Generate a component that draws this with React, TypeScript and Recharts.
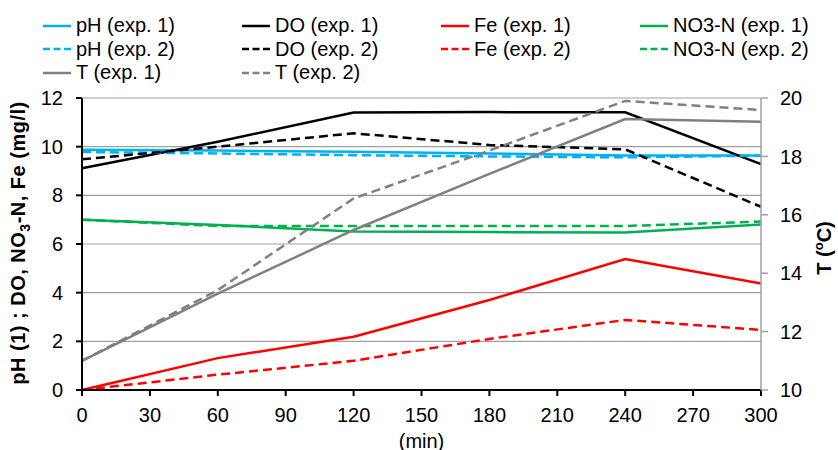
import { LineChart, Line, XAxis, YAxis, CartesianGrid } from 'recharts'

// sampling times (min)
const TIME = [0, 60, 120, 180, 240, 300]

// left axis: pH, DO, NO3-N, Fe (mg/l)
const PH_1 = [9.87, 9.84, 9.79, 9.72, 9.64, 9.64]
const PH_2 = [9.78, 9.72, 9.65, 9.6, 9.56, 9.63]
const DO_1 = [9.11, 10.2, 11.4, 11.42, 11.41, 9.28]
const DO_2 = [9.48, 10.0, 10.55, 10.07, 9.89, 7.53]
const FE_1 = [0, 1.31, 2.19, 3.7, 5.38, 4.38]
const FE_2 = [0, 0.63, 1.2, 2.1, 2.88, 2.47]
const NO3_1 = [7.0, 6.78, 6.51, 6.49, 6.47, 6.8]
const NO3_2 = [7.0, 6.74, 6.74, 6.74, 6.74, 6.92]

// right axis: temperature (C)
const T_1 = [11.0, 13.3, 15.48, 17.4, 19.28, 19.19]
const T_2 = [11.0, 13.42, 16.56, 18.2, 19.9, 19.59]

const X_TICKS = [0, 30, 60, 90, 120, 150, 180, 210, 240, 270, 300]
const LEFT_TICKS = [0, 2, 4, 6, 8, 10, 12]
const RIGHT_TICKS = [10, 12, 14, 16, 18, 20]

const FONT = '"Liberation Sans", Arial, sans-serif'
const GRID = '#a0a0a0'

const data = TIME.map((t, i) => ({
  time: t,
  ph1: PH_1[i],
  ph2: PH_2[i],
  do1: DO_1[i],
  do2: DO_2[i],
  fe1: FE_1[i],
  fe2: FE_2[i],
  no31: NO3_1[i],
  no32: NO3_2[i],
  t1: T_1[i],
  t2: T_2[i],
}))

interface Series {
  key: string
  name: string
  color: string
  dashed: boolean
  axis: 'left' | 'right'
}

// legend order (row by row, 4 columns)
const SERIES: Series[] = [
  { key: 'ph1', name: 'pH (exp. 1)', color: '#00B0F0', dashed: false, axis: 'left' },
  { key: 'do1', name: 'DO (exp. 1)', color: '#000000', dashed: false, axis: 'left' },
  { key: 'fe1', name: 'Fe (exp. 1)', color: '#FF0000', dashed: false, axis: 'left' },
  { key: 'no31', name: 'NO3-N (exp. 1)', color: '#00B050', dashed: false, axis: 'left' },
  { key: 'ph2', name: 'pH (exp. 2)', color: '#00B0F0', dashed: true, axis: 'left' },
  { key: 'do2', name: 'DO (exp. 2)', color: '#000000', dashed: true, axis: 'left' },
  { key: 'fe2', name: 'Fe (exp. 2)', color: '#FF0000', dashed: true, axis: 'left' },
  { key: 'no32', name: 'NO3-N (exp. 2)', color: '#00B050', dashed: true, axis: 'left' },
  { key: 't1', name: 'T (exp. 1)', color: '#808080', dashed: false, axis: 'right' },
  { key: 't2', name: 'T (exp. 2)', color: '#808080', dashed: true, axis: 'right' },
]

function ChartLegend() {
  return (
    <div
      style={{
        position: 'absolute',
        top: 14,
        left: 43,
        display: 'grid',
        gridTemplateColumns: 'repeat(4, 199px)',
        fontFamily: FONT,
        fontSize: 20,
        color: '#000',
      }}
    >
      {SERIES.map(s => (
        <div key={s.key} style={{ display: 'flex', alignItems: 'center', height: 23.5 }}>
          <svg width={28} height={4} style={{ marginRight: 5 }}>
            <line
              x1={0}
              y1={2}
              x2={28}
              y2={2}
              stroke={s.color}
              strokeWidth={2.5}
              strokeDasharray={s.dashed ? '7 3.5' : undefined}
            />
          </svg>
          <span style={{ whiteSpace: 'nowrap' }}>{s.name}</span>
        </div>
      ))}
    </div>
  )
}

function LeftLabel() {
  return (
    <text
      x={25}
      y={243}
      transform="rotate(-90, 25, 243)"
      textAnchor="middle"
      fontFamily={FONT}
      fontSize={20}
      fontWeight="bold"
      letterSpacing={0.5}
      fill="#000"
    >
      pH (1) ; DO, NO
      <tspan fontSize={14} dy={5}>3</tspan>
      <tspan dy={-5}>-N, Fe (mg/l)</tspan>
    </text>
  )
}

function RightLabel() {
  return (
    <text
      x={831}
      y={248}
      transform="rotate(-90, 831, 248)"
      textAnchor="middle"
      fontFamily={FONT}
      fontSize={20}
      fontWeight="bold"
      fill="#000"
    >
      T (
      <tspan fontSize={13} dy={-8}>o</tspan>
      <tspan dy={8}>C)</tspan>
    </text>
  )
}

export default function App() {
  return (
    <div style={{ position: 'relative', width: 838, height: 450, background: '#fff' }}>
      <style>{'body { margin: 0; }'}</style>
      <LineChart
        width={838}
        height={450}
        data={data}
        margin={{ top: 98, right: 0, bottom: 20, left: 0 }}
        style={{ fontFamily: FONT }}
      >
        <CartesianGrid yAxisId="left" vertical={false} stroke={GRID} strokeWidth={1.2} />
        <XAxis
          dataKey="time"
          type="number"
          domain={[0, 300]}
          ticks={X_TICKS}
          interval={0}
          height={40}
          axisLine={{ stroke: '#000', strokeWidth: 2 }}
          tickLine={{ stroke: '#000', strokeWidth: 2 }}
          tickSize={6}
          tickMargin={12}
          tick={{ fill: '#000', fontSize: 20, fontFamily: FONT }}
          label={{
            value: '(min)',
            position: 'bottom',
            offset: 4,
            fill: '#000',
            fontSize: 20,
            fontFamily: FONT,
          }}
        />
        <YAxis
          yAxisId="left"
          domain={[0, 12]}
          ticks={LEFT_TICKS}
          interval={0}
          width={82}
          axisLine={{ stroke: '#000', strokeWidth: 2 }}
          tickLine={{ stroke: '#000', strokeWidth: 2 }}
          tickSize={6}
          tickMargin={13}
          tick={{ fill: '#000', fontSize: 20, fontFamily: FONT }}
          label={<LeftLabel />}
        />
        <YAxis
          yAxisId="right"
          orientation="right"
          domain={[10, 20]}
          ticks={RIGHT_TICKS}
          interval={0}
          width={77}
          axisLine={{ stroke: GRID, strokeWidth: 1.5 }}
          tickLine={{ stroke: GRID, strokeWidth: 1.5 }}
          tickSize={7}
          tickMargin={12}
          tick={{ fill: '#000', fontSize: 20, fontFamily: FONT }}
          label={<RightLabel />}
        />
        {SERIES.map(s => (
          <Line
            key={s.key}
            yAxisId={s.axis}
            dataKey={s.key}
            name={s.name}
            type="linear"
            stroke={s.color}
            strokeWidth={2.5}
            strokeDasharray={s.dashed ? '9 5' : undefined}
            dot={false}
            activeDot={false}
            isAnimationActive={false}
          />
        ))}
      </LineChart>
      <ChartLegend />
    </div>
  )
}
